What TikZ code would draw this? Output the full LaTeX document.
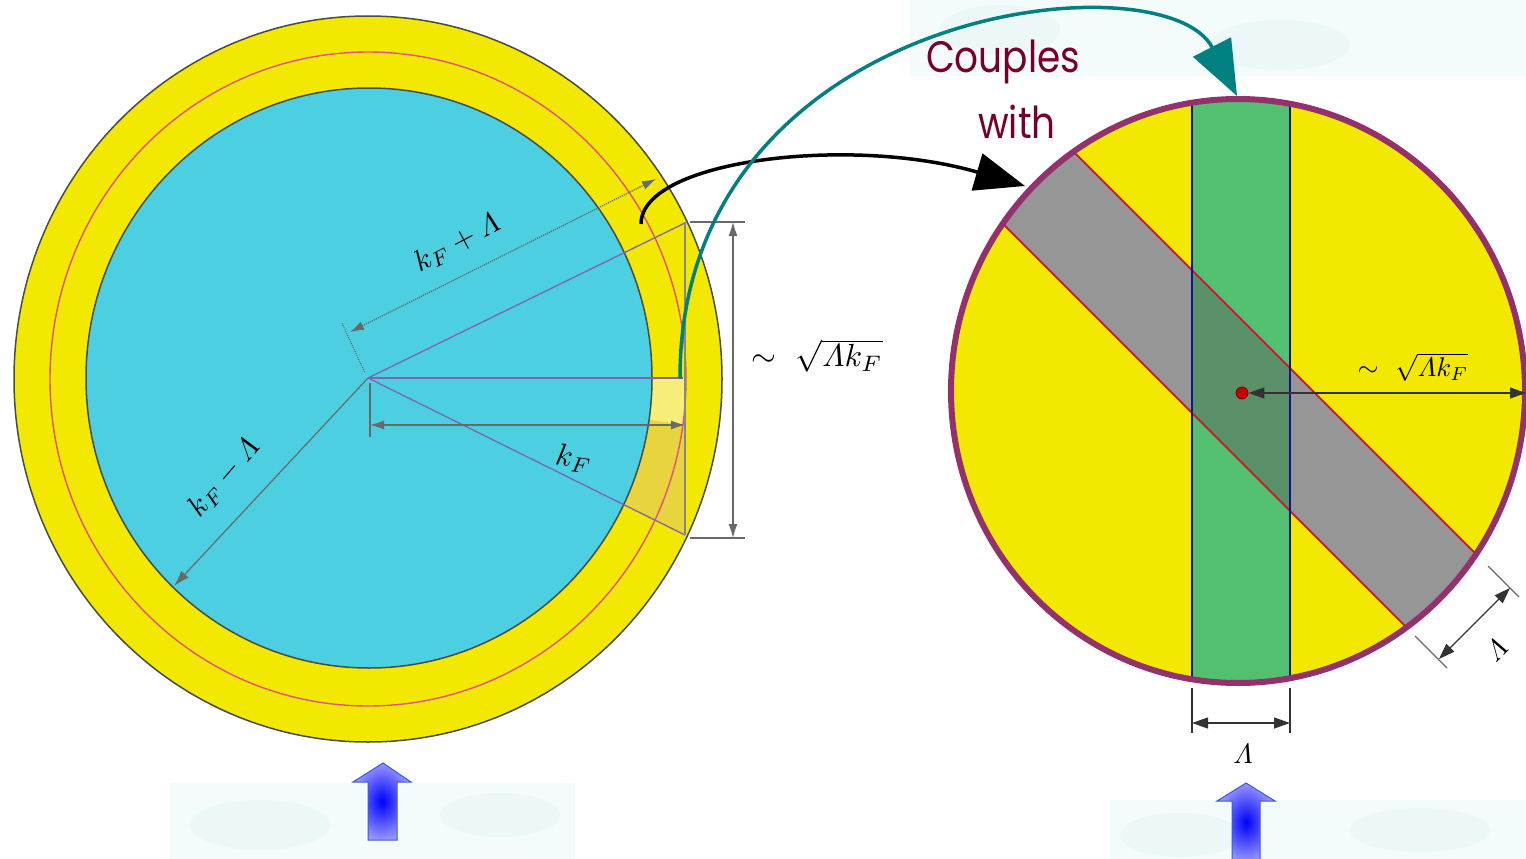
\documentclass[tikz,border=0pt]{standalone}
\usepackage{amsmath}
\usepackage{fontspec}
\usetikzlibrary{arrows.meta,calc}
\newfontfamily\hand{Poppins}
\newcommand{\Lam}{\varLambda}
\definecolor{yel}{RGB}{243,233,0}
\definecolor{cyanf}{RGB}{77,207,226}
\definecolor{pinkl}{RGB}{228,80,130}
\definecolor{bord}{RGB}{70,75,75}
\definecolor{purl}{RGB}{125,100,175}
\definecolor{dimg}{RGB}{105,105,105}
\definecolor{dyel}{RGB}{232,212,60}
\definecolor{lyel}{RGB}{246,238,120}
\definecolor{teal2}{RGB}{0,128,128}
\definecolor{couple}{RGB}{120,0,40}
\definecolor{ring}{RGB}{148,48,108}
\definecolor{greenb}{RGB}{82,192,112}
\definecolor{dgreen}{RGB}{90,145,105}
\definecolor{grayb}{RGB}{150,150,150}
\definecolor{redl}{RGB}{205,20,50}
\definecolor{bluel}{RGB}{20,20,140}
\definecolor{faint}{RGB}{244,251,251}
\definecolor{faint2}{RGB}{236,247,247}
\definecolor{arrb}{RGB}{150,150,255}
\begin{document}
\begin{tikzpicture}[x=1pt,y=-1pt,
  dimline/.style={draw=dimg,line width=1.2pt},
  dimarr/.style={dimline,{Latex[length=14pt,width=9pt]}-{Latex[length=14pt,width=9pt]}},
  radline/.style={draw=purl,line width=1.3pt},
  mlabel/.style={inner sep=0pt,text=black},
  bluearrow/.style={draw={rgb,255:red,60;green,90;blue,210},line width=1pt},
  rdim/.style={draw=black!80,line width=1.2pt},
  rdimarr/.style={rdim,{Triangle[length=16pt,width=11pt]}-{Triangle[length=16pt,width=11pt]}}
]
\useasboundingbox (0,0) rectangle (1526,859);
% faint background areas
\fill[faint] (910,0) rectangle (1526,76);
\fill[faint] (170,783) rectangle (575,859);
\fill[faint] (1110,800) rectangle (1526,859);
\fill[faint2] (1000,30) ellipse (60 and 25);
\fill[faint2] (1280,45) ellipse (70 and 25);
\fill[faint2] (260,825) ellipse (70 and 25);
\fill[faint2] (500,815) ellipse (60 and 22);
\fill[faint2] (1180,835) ellipse (60 and 22);
\fill[faint2] (1420,830) ellipse (70 and 22);

% ---------- left figure ----------
\fill[yel,draw=bord,line width=1.5pt] (368,379) ellipse (354 and 363);
\fill[dyel] (368,378) -- (685,425) -- (685,535) -- cycle;
\fill[lyel] (368,378) -- (685,378) -- (685,425) -- cycle;
\draw[pinkl,line width=1.4pt] (368,379) ellipse (318 and 327);
\fill[cyanf,draw=bord,line width=1.5pt] (369,378) ellipse (283 and 290);

\coordinate (c) at (368,378);
\coordinate (ptop) at (687,222);
\coordinate (pmid) at (683,378);
\coordinate (pbot) at (685,535);
\draw[radline] (c) -- (ptop);
\draw[radline] (c) -- (pmid);
\draw[radline] (c) -- (pbot);
\draw[draw=dimg!80,line width=1.5pt] (685,222) -- (685,535);

% k_F
\coordinate (kfa) at (370,425);
\coordinate (kfb) at (685,425);
\draw[dimarr] (kfa) -- (kfb);
\draw[dimline] (370,383) -- (370,437);
% k_F + Lambda (dotted)
\coordinate (kpa) at (350,332);
\coordinate (kpb) at (656,179);
\draw[dimarr,densely dotted] (kpa) -- (kpb);
\draw[dimline,densely dotted,line width=1pt] (342,323) -- (365,373);
% k_F - Lambda
\coordinate (kma) at (174,586);
\draw[dimline,-{Latex[length=16pt,width=10pt]}] (c) -- (kma);
% vertical dimension
\coordinate (va) at (733,222);
\coordinate (vb) at (733,538);
\draw[dimarr] (va) -- (vb);
\draw[dimline] (690,222) -- (745,222);
\draw[dimline] (690,538) -- (745,538);

\node[mlabel,scale=3.0,rotate=28] (lkp) at (457,243) {$k_F+\Lam$};
\node[mlabel,scale=3.0,rotate=49] (lkm) at (224,478) {$k_F-\Lam$};
\node[mlabel,scale=3.1,rotate=-8] (lkf) at (574,459) {$k_F$};
\node[mlabel,scale=3.2] (lsq) at (817,356) {$\sim\ \sqrt{\Lam k_F}$};

% ---------- right figure ----------
\coordinate (rc) at (1238,391);
\begin{scope}
  \clip (rc) ellipse (287 and 292);
  \fill[yel] (rc) ellipse (287 and 292);
  \fill[greenb] (1192,90) rectangle (1290,690);
  \begin{scope}[shift={(1240,389.5)},rotate=-45]
    \fill[grayb] (-450,-50.5) rectangle (450,50.5);
  \end{scope}
  \begin{scope}
    \clip (1192,90) rectangle (1290,690);
    \begin{scope}[shift={(1240,389.5)},rotate=-45]
      \fill[dgreen] (-450,-50.5) rectangle (450,50.5);
    \end{scope}
  \end{scope}
  \begin{scope}[shift={(1240,389.5)},rotate=-45]
    \draw[redl,line width=1.8pt] (-450,-50.5) -- (450,-50.5);
    \draw[redl,line width=1.8pt] (-450,50.5) -- (450,50.5);
  \end{scope}
  \draw[bluel,line width=2.2pt] (1192,90) -- (1192,690);
  \draw[bluel,line width=2.2pt] (1290,90) -- (1290,690);
\end{scope}
\draw[ring,line width=6pt] (rc) ellipse (287 and 292);

% center dot and radius arrow
\node[circle,fill={rgb,255:red,200;green,0;blue,0},draw={rgb,255:red,120;green,0;blue,0},line width=0.8pt,minimum size=12pt,inner sep=0pt] (dot) at (1242,393) {};
\coordinate (redge) at (1526,393);
\draw[rdimarr] (dot.east) -- (redge);
\node[mlabel,scale=2.7] (rsq) at (1413,367) {$\sim\ \sqrt{\Lam k_F}$};

% bottom Lambda
\coordinate (ba) at (1192,723);
\coordinate (bb) at (1290,723);
\draw[rdim] (1192,688) -- (1192,733);
\draw[rdim] (1290,688) -- (1290,733);
\draw[rdimarr] (ba) -- (bb);
\node[mlabel,scale=2.8] (bl) at (1243,754) {$\Lam$};

% lower-right Lambda
\draw[dimline,line width=1.1pt] (1488,566) -- (1519,597);
\draw[dimline,line width=1.1pt] (1415,636) -- (1447,668);
\coordinate (da) at (1510,588);
\coordinate (db) at (1439,659);
\draw[rdimarr] (da) -- (db);
\node[mlabel,scale=2.8,rotate=45] (dl) at (1496,650) {$\Lam$};

% ---------- connecting arrows ----------
\coordinate (bs) at (641,224);
\coordinate (be) at (1025,186);
\draw[black,line width=3.5pt,-{Triangle[length=50pt,width=38pt]}] (bs) .. controls (641,160) and (850,135) .. (be);
\coordinate (ts) at (680,378);
\coordinate (te) at (1237,96);
\draw[teal2,line width=3.5pt,-{Triangle[length=55pt,width=42pt]}] (ts) .. controls (680,5) and (1165,-45) .. (te);

\node[text=couple,font=\hand\fontsize{44}{48}\selectfont,xscale=0.85,inner sep=0pt] (couples) at (1003,62) {Couples};
\node[text=couple,font=\hand\fontsize{44}{48}\selectfont,xscale=0.85,inner sep=0pt] (with) at (1017,122) {with};

% ---------- blue up arrows ----------
\shade[inner color=blue,outer color=arrb] (383,763) -- (411,782) -- (397,782) -- (397,840) -- (368,840) -- (368,782) -- (353,782) -- cycle;
\draw[bluearrow] (383,763) -- (411,782) -- (397,782) -- (397,840) -- (368,840) -- (368,782) -- (353,782) -- cycle;
\shade[inner color=blue,outer color=arrb] (1246,783) -- (1275,801) -- (1260,801) -- (1260,862) -- (1232,862) -- (1232,801) -- (1217,801) -- cycle;
\draw[bluearrow] (1246,783) -- (1275,801) -- (1260,801) -- (1260,862) -- (1232,862) -- (1232,801) -- (1217,801) -- cycle;
\end{tikzpicture}
\end{document}
